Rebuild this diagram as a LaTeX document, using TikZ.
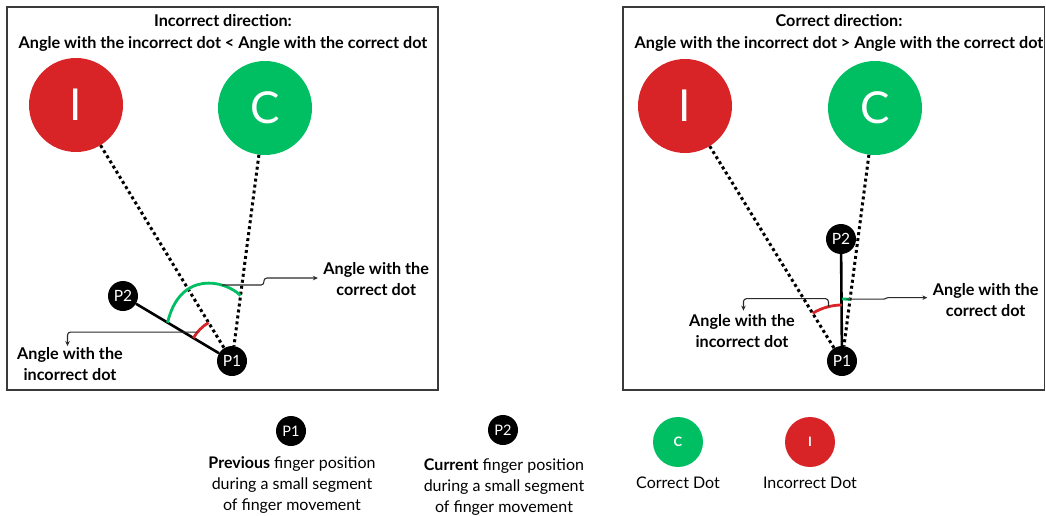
\documentclass[tikz,border=0pt]{standalone}
\usepackage{fontspec}
\setmainfont{Lato}
\usetikzlibrary{arrows.meta}
\definecolor{dotred}{HTML}{D92427}
\definecolor{dotgreen}{HTML}{00BF63}
\definecolor{framegray}{HTML}{3A3A3A}
\definecolor{calloutgray}{HTML}{2A2A2A}

\begin{document}
\begin{tikzpicture}[x=1pt,y=1pt,
  panel/.style={draw=framegray, line width=1.6pt},
  bigdot/.style={circle, minimum size=94pt, inner sep=0pt, text=white,
    font=\fontsize{44}{44}\selectfont},
  ptdot/.style={circle, fill=black, minimum size=30pt, inner sep=0pt, text=white,
    font=\fontsize{15.5}{15.5}\selectfont},
  legdot/.style={circle, minimum size=50pt, inner sep=0pt, text=white,
    font=\bfseries\fontsize{13}{13}\selectfont},
  sightline/.style={line width=3pt, dash pattern=on 3pt off 3pt},
  movement/.style={line width=2.6pt},
  anglearc/.style={line width=2.8pt},
  callout/.style={draw=calloutgray, line width=1.1pt, rounded corners=3pt,
    -{Stealth[length=5pt,width=4.5pt]}},
  heading/.style={align=center, font=\bfseries\fontsize{16.2}{22}\selectfont},
  calloutlabel/.style={align=center, font=\bfseries\fontsize{16.2}{21}\selectfont},
  legendtext/.style={align=center, font=\fontsize{16}{21}\selectfont}
]
\useasboundingbox (0,0) rectangle (1046,-516);

% ---------- left panel: incorrect direction ----------
\draw[panel] (7,-7) rectangle (438,-390);
\node[heading] (lhead) at (223,-33)
  {Incorrect direction:\\Angle with the incorrect dot < Angle with the correct dot};

\node[bigdot, fill=dotred]   (Li) at (76,-105) {I};
\node[bigdot, fill=dotgreen] (Lc) at (265,-108) {C};
\node[ptdot] (Lp1) at (232,-361) {P1};
\node[ptdot] (Lp2) at (123,-296) {P2};

\draw[sightline] (Li) -- (Lp1);
\draw[sightline] (Lc) -- (Lp1);
\draw[movement] (Lp2) -- (Lp1);

% angle towards the incorrect dot
\draw[anglearc, dotred] ([shift={(149.2:45)}]Lp1.center)
  arc[start angle=149.2, end angle=121.4, radius=45];
\coordinate (lrs) at ([shift={(140:45)}]Lp1.center);
% angle towards the correct dot
\draw[anglearc, dotgreen] ([shift={(149.2:75)}]Lp1.center)
  .. controls (180,-270) and (225,-280) .. ([shift={(82.6:66)}]Lp1.center)
  coordinate[pos=0.72] (lgs);

\draw[callout] (lgs) -| ++(42,7) -- ++(54,0) coordinate (lgt);
\node[calloutlabel, anchor=west] (lgl) at ([xshift=2pt,yshift=-1pt]lgt)
  {Angle with the\\correct dot};

\draw[callout] (lrs) -- ++(-130,0) -- ++(0,-14) coordinate (lrt);
\node[calloutlabel] (lrl) at (70,-364) {Angle with the\\incorrect dot};

% ---------- right panel: correct direction ----------
\draw[panel] (623,-7) rectangle (1044.5,-390);
\node[heading] (rhead) at (839,-33)
  {Correct direction:\\Angle with the incorrect dot > Angle with the correct dot};

\node[bigdot, fill=dotred]   (Ri) at (685,-106) {I};
\node[bigdot, fill=dotgreen] (Rc) at (875,-108) {C};
\node[ptdot] (Rp1) at (842,-361) {P1};
\node[ptdot] (Rp2) at (841,-239) {P2};

\draw[sightline] (Ri) -- (Rp1);
\draw[sightline] (Rc) -- (Rp1);
\draw[movement] (Rp2) -- (Rp1);

\draw[anglearc, dotred] ([shift={(90:56)}]Rp1.center)
  arc[start angle=90, end angle=121.6, radius=56];
\coordinate (rrs) at ([shift={(104:56)}]Rp1.center);
\draw[anglearc, dotgreen] ([shift={(90:62)}]Rp1.center)
  arc[start angle=90, end angle=82.6, radius=62];
\coordinate (rgs) at ([shift={(86:62)}]Rp1.center);

\draw[callout, rounded corners=1pt] (rgs) -- ++(38,0) -- ++(3,1.5) -- ++(40,0)
  coordinate (rgt);
\node[calloutlabel, anchor=west] (rgl) at ([xshift=2pt,yshift=-2pt]rgt)
  {Angle with the\\correct dot};

\draw[callout] (rrs) |- ++(-85,8) -- ++(0,-12) coordinate (rrt);
\node[calloutlabel] (rrl) at (742,-331) {Angle with the\\incorrect dot};

% ---------- legend ----------
\node[ptdot, font=\fontsize{14.5}{14.5}\selectfont] (k1) at (291,-431) {P1};
\node[legendtext] (k1t) at (292,-485)
  {\textbf{Previous} finger position\\during a small segment\\of finger movement};
\node[ptdot, font=\fontsize{14.5}{14.5}\selectfont] (k2) at (503,-430) {P2};
\node[legendtext] (k2t) at (504,-487)
  {\textbf{Current} finger position\\during a small segment\\of finger movement};
\node[legdot, fill=dotgreen] (k3) at (678,-442) {C};
\node[legendtext] (k3t) at (678,-483) {Correct Dot};
\node[legdot, fill=dotred] (k4) at (810,-442) {I};
\node[legendtext] (k4t) at (810,-483) {Incorrect Dot};
\end{tikzpicture}
\end{document}
